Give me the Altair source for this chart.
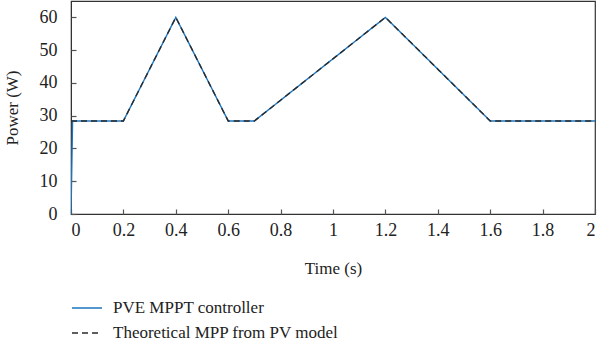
import altair as alt
import pandas as pd

# PVE MPPT controller (measured)
pve_t = [0.0, 0.006, 0.2, 0.4, 0.6, 0.7, 1.2, 1.6, 2.0]
pve_p = [0.0, 28.4, 28.4, 60.0, 28.4, 28.4, 60.0, 28.4, 28.4]
# Theoretical MPP from PV model
th_t = [0.0, 0.2, 0.4, 0.6, 0.7, 1.2, 1.6, 2.0]
th_p = [28.4, 28.4, 60.0, 28.4, 28.4, 60.0, 28.4, 28.4]

x_ticks = [0, 0.2, 0.4, 0.6, 0.8, 1, 1.2, 1.4, 1.6, 1.8, 2]
y_ticks = [0, 10, 20, 30, 40, 50, 60]

series = ["PVE MPPT controller", "Theoretical MPP from PV model"]

rows = []
for i, (t, p) in enumerate(zip(pve_t, pve_p)):
    rows.append({"t": t, "p": p, "s": series[0], "o": i})
for i, (t, p) in enumerate(zip(th_t, th_p)):
    rows.append({"t": t, "p": p, "s": series[1], "o": i})
df = pd.DataFrame(rows)

FONT = "'Liberation Serif', 'Times New Roman', serif"
W, H = 524, 213

xscale = alt.Scale(domain=[0, 2], nice=False)
yscale = alt.Scale(domain=[0, 65], nice=False)

main = alt.Chart(df).mark_line(strokeWidth=1.4, clip=True).encode(
    x=alt.X("t:Q", title="Time (s)", scale=xscale,
            axis=alt.Axis(values=x_ticks, format="~g", ticks=False,
                          labelFont=FONT, labelFontSize=18, labelPadding=7,
                          titleFont=FONT, titleFontSize=17, titlePadding=21)),
    y=alt.Y("p:Q", title="Power (W)", scale=yscale,
            axis=alt.Axis(values=y_ticks, ticks=False,
                          labelFont=FONT, labelFontSize=18, labelPadding=14,
                          titleFont=FONT, titleFontSize=17, titlePadding=18)),
    color=alt.Color("s:N", scale=alt.Scale(domain=series, range=["#1b75bf", "#2a2a2a"]),
                    legend=alt.Legend(title=None, orient="none", legendX=0, legendY=291,
                                      symbolType="stroke", symbolSize=900, symbolStrokeWidth=1.4,
                                      labelFont=FONT, labelFontSize=17, labelColor="#222",
                                      labelLimit=0, rowPadding=1, labelOffset=10,
                                      direction="vertical")),
    strokeDash=alt.StrokeDash("s:N", scale=alt.Scale(domain=series, range=[[1, 0], [6, 4]]),
                              legend=alt.Legend(title=None, orient="none", legendX=0, legendY=291,
                                                symbolType="stroke", symbolSize=900,
                                                labelFont=FONT, labelFontSize=17,
                                                labelLimit=0, rowPadding=1, labelOffset=10)),
    order="o:Q",
)

# inside-pointing ticks: axes on the opposite side moved onto the frame
ticks_layer = alt.Chart(df).mark_line(opacity=0).encode(
    x=alt.X("t:Q", scale=xscale,
            axis=alt.Axis(orient="top", offset=-H, values=x_ticks, labels=False,
                          domain=False, title=None, ticks=True, tickSize=5,
                          tickColor="#555", tickWidth=1.2)),
    y=alt.Y("p:Q", scale=yscale,
            axis=alt.Axis(orient="right", offset=-W, values=y_ticks, labels=False,
                          domain=False, title=None, ticks=True, tickSize=5,
                          tickColor="#555", tickWidth=1.2)),
)

chart = alt.layer(main, ticks_layer).resolve_axis(
    x="independent", y="independent"
).properties(
    width=W, height=H,
    padding={"left": 71, "top": 1, "right": 5, "bottom": 134},
    autosize=alt.AutoSizeParams(type="none"),
).configure_view(
    stroke="#333", strokeWidth=1.2
).configure_axis(
    labelColor="#222", titleColor="#222", titleFontWeight="normal",
    domainColor="#333", grid=False,
).configure_legend(
    labelFont=FONT
)

chart.save("out.html", embed_options={"renderer": "svg", "actions": False})
